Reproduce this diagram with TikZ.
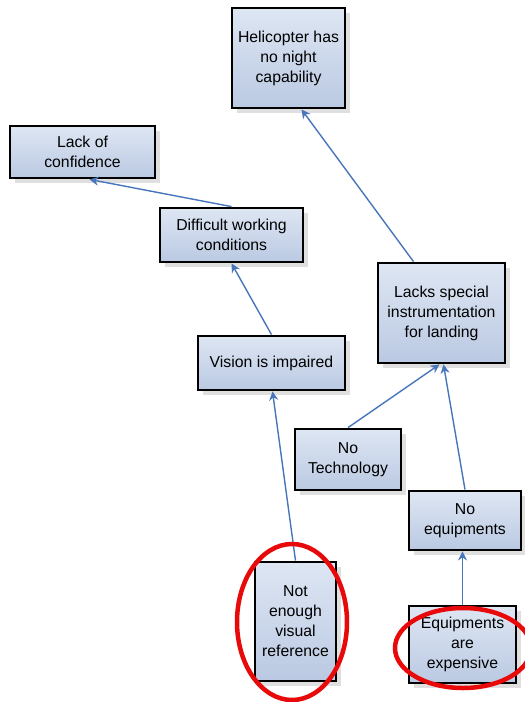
\documentclass[tikz,border=0pt]{standalone}
\usepackage{fontspec}
\setmainfont{Liberation Sans}
\usetikzlibrary{arrows.meta,shadows}
\definecolor{boxtop}{RGB}{222,230,243}
\definecolor{boxbot}{RGB}{186,201,226}
\definecolor{arrblue}{RGB}{72,118,186}
\definecolor{ringred}{RGB}{232,10,10}
\tikzset{
  cause/.style={draw=black,line width=2.8pt,top color=boxtop,bottom color=boxbot,
    align=center,inner sep=0pt,font=\fontsize{15.8}{20}\selectfont,
    drop shadow={shadow xshift=5pt,shadow yshift=-5pt,opacity=0.25,fill=gray}},
  link/.style={draw=arrblue,line width=1.4pt,-{Stealth[length=9pt,width=9pt]}},
  ring/.style={draw=ringred,line width=4.5pt}
}
\begin{document}
\begin{tikzpicture}[x=1pt,y=-1pt]
\useasboundingbox[fill=white] (0,0) rectangle (525,702);
% boxes
\node[cause,minimum width=113pt,minimum height=100pt] (heli) at (288.5,58) {Helicopter has\\no night\\capability};
\node[cause,minimum width=145pt,minimum height=52pt] (lack) at (82.5,152) {Lack of\\confidence};
\node[cause,minimum width=143pt,minimum height=54pt] (diff) at (231.5,235) {Difficult working\\conditions};
\node[cause,minimum width=147pt,minimum height=54pt] (vision) at (271.5,363) {Vision is impaired};
\node[cause,minimum width=127pt,minimum height=100pt] (lacks) at (441.5,313) {Lacks special\\instrumentation\\for landing};
\node[cause,minimum width=106pt,minimum height=61pt] (notech) at (348,459.5) {No\\Technology};
\node[cause,minimum width=112pt,minimum height=59pt] (noequip) at (465,520.5) {No\\equipments};
\node[cause,minimum width=81pt,minimum height=119pt] (notenough) at (295.5,621.5) {Not\\enough\\visual\\reference};
\node[cause,minimum width=107pt,minimum height=77pt] (expensive) at (462.5,644.5) {Equipments\\are\\expensive};
% links
\draw[link] (diff.north) -- ([xshift=7pt]lack.south);
\draw[link] (vision.north) -- (diff.south);
\draw[link] (notenough.north) -- ([xshift=1pt]vision.south);
\draw[link] ([xshift=-28pt]lacks.north) -- ([xshift=13pt]heli.south);
\draw[link] (notech.north) -- ([xshift=-2pt]lacks.south);
\draw[link] (noequip.north) -- ([xshift=2pt]lacks.south);
\draw[link] (expensive.north) -- (expensive.north |- noequip.south);
% red rings
\draw[ring] (292,622) ellipse (55pt and 78pt);
\draw[ring] (463,648) ellipse (68pt and 40pt);
\end{tikzpicture}
\end{document}
